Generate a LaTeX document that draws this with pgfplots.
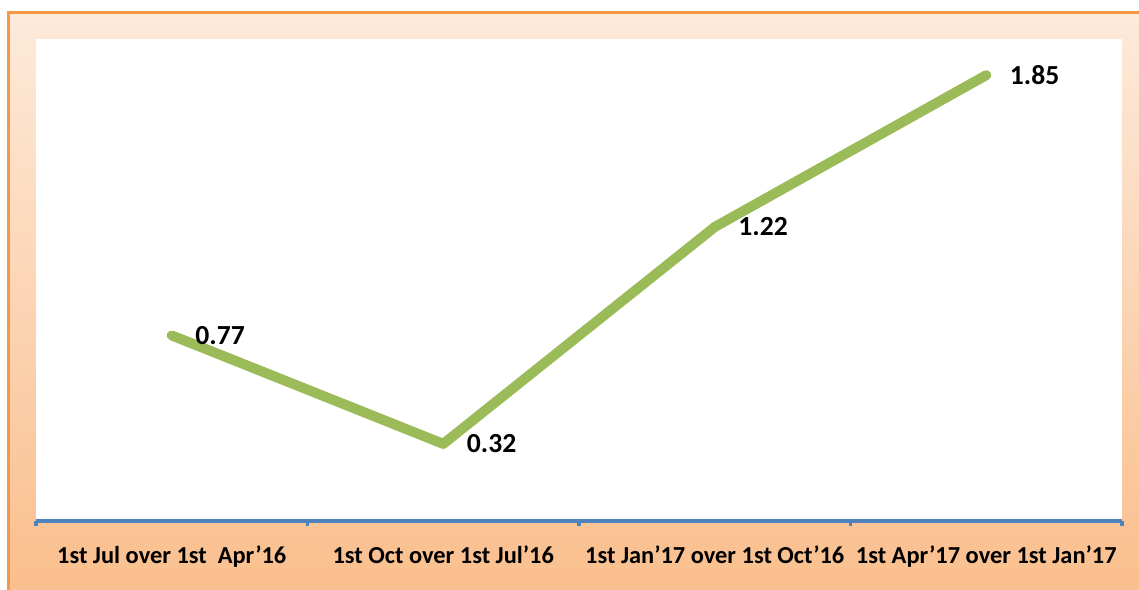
\documentclass[border=0pt]{standalone}
\usepackage{pgfplots}
\pgfplotsset{compat=1.18}
\usepackage{fontspec}
\setmainfont{Carlito}
\definecolor{lineg}{RGB}{155,187,89}
\definecolor{axblue}{RGB}{79,129,189}
\definecolor{frameor}{RGB}{247,150,70}
\definecolor{peachtop}{RGB}{253,234,218}
\definecolor{peachbot}{RGB}{250,190,140}
\begin{document}
\begin{tikzpicture}
% picture frame, 0.5pt per pixel of the reference
\path[use as bounding box] (-18pt,-34pt) rectangle (551.5pt,260.5pt);
\clip (-18pt,-34pt) rectangle (551.5pt,260.5pt);
\shade[top color=peachtop, bottom color=peachbot] (-14pt,-40pt) rectangle (570pt,254pt);
\draw[frameor, line width=1.5pt] (-14pt,-40pt) rectangle (570pt,254pt);
\fill[white] (0pt,0pt) rectangle (543pt,241pt);
\begin{axis}[
    at={(0pt,0pt)}, anchor=south west,
    scale only axis,
    width=543pt, height=241pt,
    xmin=0.5, xmax=4.5,
    ymin=0, ymax=2,
    axis x line=bottom,
    axis y line=none,
    axis line style={axblue, line width=2pt, -},
    xtick={1,2,3,4},
    xticklabels={1st Jul over 1st\ \ Apr’16, 1st Oct over 1st Jul’16, 1st Jan’17 over 1st Oct’16, 1st Apr’17 over 1st Jan’17},
    major tick length=0pt,
    minor xtick={0.5,1.5,2.5,3.5,4.5},
    minor tick length=2.5pt,
    tick align=outside,
    minor tick style={axblue, line width=1.6pt},
    xticklabel style={font=\fontsize{12.2}{14}\selectfont\bfseries, yshift=-9pt},
    clip=false,
    nodes near coords,
    point meta=explicit symbolic,
    every node near coord/.append style={black, font=\fontsize{13.8}{15}\selectfont\bfseries, anchor=west, xshift=6pt},
]
\addplot[lineg, line width=5pt, line cap=round, line join=round, mark=none]
  coordinates {(1,0.77)[0.77] (2,0.32)[0.32] (3,1.22)[1.22] (4,1.85)[1.85]};
\end{axis}
\end{tikzpicture}
\end{document}
